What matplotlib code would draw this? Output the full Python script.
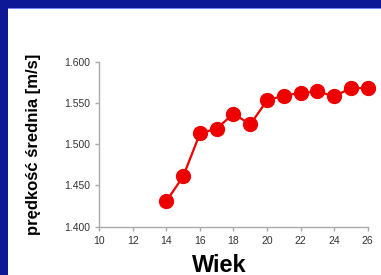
import matplotlib.pyplot as plt
from matplotlib.patches import Rectangle

# mean speed by age
wiek = [14, 15, 16, 17, 18, 19, 20, 21, 22, 23, 24, 25, 26]
predkosc = [1.431, 1.461, 1.513, 1.519, 1.537, 1.524, 1.553, 1.559, 1.562, 1.564, 1.558, 1.568, 1.568]
xticks = [10, 12, 14, 16, 18, 20, 22, 24, 26]
yticks = [1.400, 1.450, 1.500, 1.550, 1.600]

plt.rcParams['font.family'] = ['Liberation Sans', 'DejaVu Sans']

fig = plt.figure(figsize=(3.81, 2.75), dpi=100, facecolor='#0c1896')

# white slide panel behind the chart
bg = fig.add_axes([0, 0, 1, 1], zorder=-1)
bg.set_xlim(0, 381)
bg.set_ylim(275, 0)
bg.axis('off')
bg.add_patch(Rectangle((8, 9), 400, 300, facecolor='white', edgecolor='none'))
bg.add_patch(Rectangle((8, 8), 400, 1.2, facecolor='#6f86ff', edgecolor='none'))

ax = fig.add_axes([0.2607, 0.1756, 0.965 - 0.2607, 0.60])
ax.patch.set_alpha(0)
ax.plot(wiek, predkosc, color='#ee0000', lw=1.6, marker='o', markersize=10,
        markeredgecolor='#ee0000', clip_on=False, zorder=3)

ax.set_xlim(10, 26)
ax.set_ylim(1.4, 1.6)
ax.set_xticks(xticks)
ax.set_yticks(yticks)
ax.set_yticklabels([f'{v:.3f}' for v in yticks])
for s in ['top', 'right']:
    ax.spines[s].set_visible(False)
for s in ['left', 'bottom']:
    ax.spines[s].set_color('#aaaaaa')
    ax.spines[s].set_linewidth(1)
ax.tick_params(colors='#aaaaaa', length=3, width=1, labelsize=7.5, labelcolor='#333333')

fig.text(34/381, 1 - 144/275, 'prędkość średnia [m/s]', rotation=90, ha='center', va='center',
         fontsize=12, fontweight='bold', color='black')
fig.text(219/381, 1 - 265/275, 'Wiek', ha='center', va='center',
         fontsize=17, fontweight='bold', color='black')

fig.savefig('out.png', dpi=100, facecolor=fig.get_facecolor())
